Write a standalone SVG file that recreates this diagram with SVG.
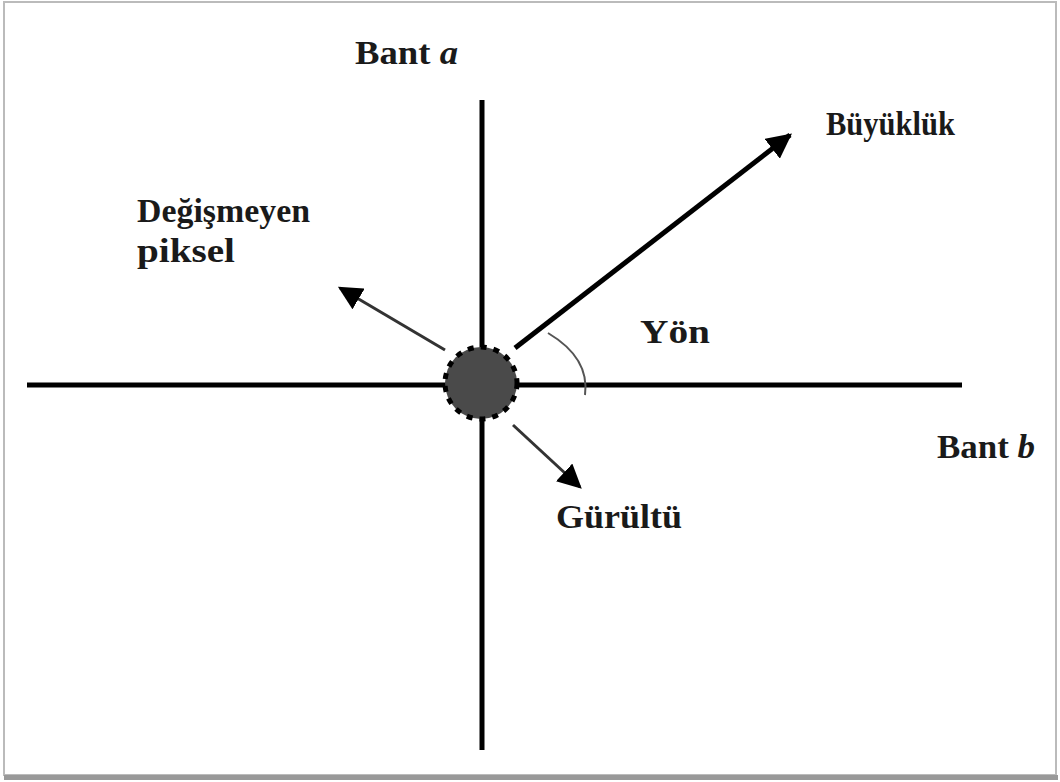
<svg xmlns="http://www.w3.org/2000/svg" width="1060" height="782" viewBox="0 0 1060 782">
<style>
.t{font-family:"Liberation Serif","Times New Roman",serif;font-weight:bold;font-size:33px;fill:#1a1a1a}
.axis{stroke:#000;stroke-width:5;fill:none}
.thin{stroke:#333;stroke-width:3;fill:none}
</style>
<defs>
<marker id="ah" viewBox="0 0 10 10" refX="9" refY="5" markerWidth="5" markerHeight="5" orient="auto" markerUnits="strokeWidth"><path d="M0,0 L10,5 L0,10 Z" fill="#000"/></marker>
<marker id="ahs" viewBox="0 0 10 10" refX="9" refY="5" markerWidth="8" markerHeight="8" orient="auto" markerUnits="strokeWidth"><path d="M0,0 L10,5 L0,10 Z" fill="#000"/></marker>
</defs>
<rect x="0" y="0" width="1060" height="782" fill="#fff"/>
<rect x="4" y="2" width="1052" height="773" fill="#fff" stroke="#bbb" stroke-width="2"/>
<rect x="4" y="775" width="1054" height="5" fill="#999"/>
<g id="connectors">
<line class="axis" x1="482" y1="100" x2="482" y2="750"/>
<line class="axis" x1="27" y1="385" x2="962" y2="385"/>
<line class="axis" x1="515" y1="348" x2="790" y2="135" marker-end="url(#ah)"/>
<line class="thin" x1="445" y1="350" x2="340" y2="288" marker-end="url(#ahs)"/>
<line class="thin" x1="513" y1="425" x2="580" y2="487" marker-end="url(#ahs)"/>
<path d="M548,333 Q590,358 585,395" stroke="#555" stroke-width="2" fill="none"/>
</g>
<g id="pixel">
<circle cx="481" cy="383" r="36" fill="#4a4a4a" stroke="#000" stroke-width="5" stroke-dasharray="6,7"/>
</g>
<g id="labels">
<text class="t" x="355" y="64" textLength="103" lengthAdjust="spacingAndGlyphs">Bant <tspan font-style="italic">a</tspan></text>
<text class="t" x="826" y="135" textLength="129" lengthAdjust="spacingAndGlyphs">Büyüklük</text>
<text class="t" x="137" y="222" textLength="173" lengthAdjust="spacingAndGlyphs">Değişmeyen</text>
<text class="t" x="137" y="262" textLength="98" lengthAdjust="spacingAndGlyphs">piksel</text>
<text class="t" x="640" y="343" textLength="70" lengthAdjust="spacingAndGlyphs">Yön</text>
<text class="t" x="937" y="458" textLength="98" lengthAdjust="spacingAndGlyphs">Bant <tspan font-style="italic">b</tspan></text>
<text class="t" x="556" y="528" textLength="126" lengthAdjust="spacingAndGlyphs">Gürültü</text>
</g>
</svg>
